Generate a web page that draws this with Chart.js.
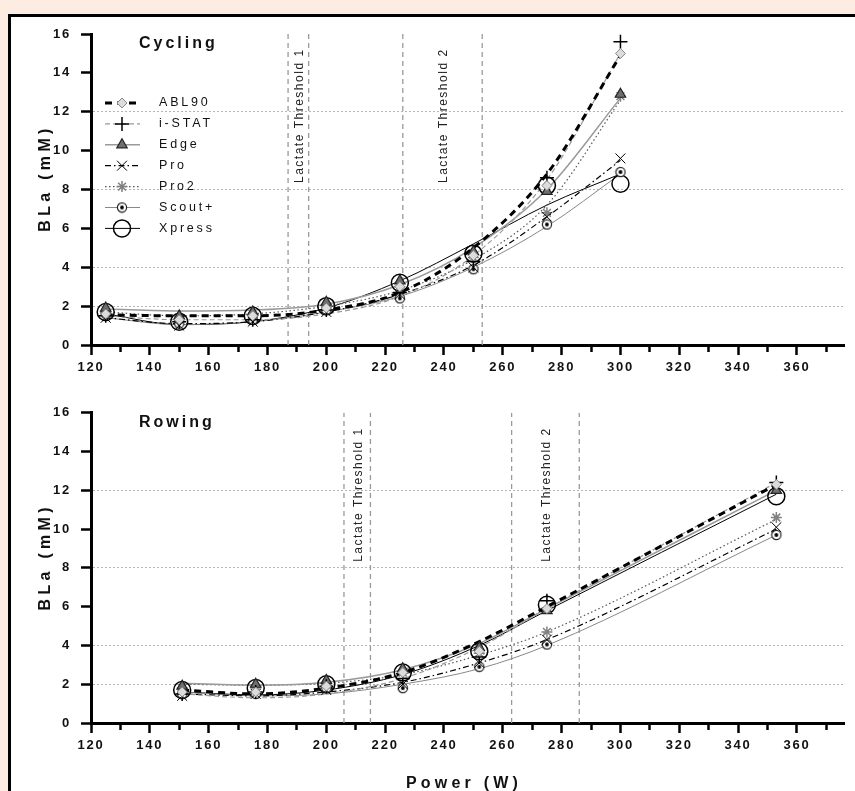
<!DOCTYPE html>
<html>
<head>
<meta charset="utf-8">
<script src="https://cdn.jsdelivr.net/npm/chart.js@4.4.1/dist/chart.umd.min.js"></script>
<style>
  html, body { margin: 0; padding: 0; background: #fdece2; overflow: hidden; width: 855px; height: 791px; }
  #frame { position: absolute; left: 8px; top: 14px; width: 900px; height: 900px; background: #fff; border-left: 3px solid #000; border-top: 3px solid #000; }
  .wrap { position: absolute; left: 0; width: 855px; }
  #w1 { top: 0; height: 395px; }
  #w2 { top: 395px; height: 396px; }
</style>
</head>
<body>
<div id="frame"></div>
<div class="wrap" id="w1"><canvas id="cycling"></canvas></div>
<div class="wrap" id="w2"><canvas id="rowing"></canvas></div>
<script>
// Cycling - power (W), measured blood lactate (mM) per analyser
const cyclingPower = [125, 150, 175, 200, 225, 250, 275, 300];
const cycABL90  = [1.6, 1.3, 1.5, 1.9, 3.0, 4.6, 8.2, 15.0];
const cycISTAT  = [1.5, 1.2, 1.3, 1.8, 2.7, 4.3, 8.6, 15.6];
const cycEdge   = [1.9, 1.5, 1.7, 2.2, 3.3, 4.8, 7.9, 12.9];
const cycPro    = [1.4, 1.0, 1.2, 1.7, 2.6, 4.0, 6.6, 9.6];
const cycPro2   = [1.7, 1.3, 1.5, 2.0, 3.0, 4.5, 6.8, 12.8];
const cycScout  = [1.6, 1.1, 1.3, 1.8, 2.4, 3.9, 6.2, 8.9];
const cycXpress = [1.7, 1.2, 1.5, 2.0, 3.2, 4.7, 8.2, 8.3];
// fitted curves, read at the same powers
const cycFitABL90  = [1.55, 1.5, 1.5, 1.8, 2.7, 5.0, 8.8, 14.9];
const cycFitISTAT  = [1.5, 1.3, 1.3, 1.6, 2.5, 4.6, 8.5, 15.0];
const cycFitEdge   = [1.85, 1.75, 1.8, 2.1, 3.1, 5.0, 8.0, 12.7];
const cycFitPro    = [1.4, 1.1, 1.2, 1.7, 2.6, 4.1, 6.6, 9.5];
const cycFitPro2   = [1.7, 1.5, 1.6, 2.0, 2.8, 4.4, 7.2, 12.6];
const cycFitScout  = [1.4, 1.05, 1.2, 1.7, 2.5, 4.0, 6.1, 8.8];
const cycFitXpress = [1.6, 1.05, 1.2, 1.9, 3.3, 5.2, 7.2, 8.8];
const cyclingThresholds = [187, 194, 226, 253];

// Rowing
const rowingPower = [151, 176, 200, 226, 252, 275, 353];
const rowABL90  = [1.6, 1.6, 1.9, 2.6, 3.7, 5.9, 12.3];
const rowISTAT  = [1.5, 1.6, 1.9, 2.3, 3.4, 6.3, 12.4];
const rowEdge   = [1.9, 2.0, 2.2, 2.8, 3.9, 5.8, 12.0];
const rowPro    = [1.4, 1.5, 1.7, 2.0, 3.1, 4.3, 10.1];
const rowPro2   = [1.8, 1.8, 2.0, 2.6, 3.6, 4.7, 10.6];
const rowScout  = [1.5, 1.5, 1.8, 1.8, 2.9, 4.05, 9.7];
const rowXpress = [1.7, 1.8, 2.0, 2.6, 3.7, 6.1, 11.7];
const rowFitABL90  = [1.7, 1.5, 1.8, 2.6, 4.2, 6.0, 12.3];
const rowFitISTAT  = [1.5, 1.3, 1.5, 2.3, 3.9, 5.9, 12.4];
const rowFitEdge   = [2.05, 1.95, 2.1, 2.75, 4.1, 5.9, 12.0];
const rowFitPro    = [1.5, 1.4, 1.6, 2.1, 3.1, 4.3, 10.0];
const rowFitPro2   = [2.0, 1.95, 2.05, 2.5, 3.5, 4.7, 10.5];
const rowFitScout  = [1.6, 1.4, 1.5, 2.0, 2.8, 4.0, 9.7];
const rowFitXpress = [1.6, 1.45, 1.7, 2.5, 4.0, 5.8, 11.8];
const rowingThresholds = [206, 215, 263, 286];

const deviceNames = ['ABL90', 'i-STAT', 'Edge', 'Pro', 'Pro2', 'Scout+', 'Xpress'];
const yTicks = [0, 2, 4, 6, 8, 10, 12, 14, 16];
const gridAt = [2, 4, 8, 12];
const thresholdLabels = ['Lactate Threshold 1', 'Lactate Threshold 2'];

const FONT = '"Liberation Sans", Arial, sans-serif';

// Scout+ marker: ring with a dot
const scoutMark = document.createElement('canvas');
scoutMark.width = 12; scoutMark.height = 12;
(function () {
    const c = scoutMark.getContext('2d');
    c.beginPath(); c.arc(6, 6, 4.6, 0, Math.PI * 2);
    c.fillStyle = '#fff'; c.fill();
    c.lineWidth = 1.2; c.strokeStyle = '#222'; c.stroke();
    c.beginPath(); c.arc(6, 6, 1.9, 0, Math.PI * 2);
    c.fillStyle = '#000'; c.fill();
})();

const lineStyles = {
    'ABL90':  { borderColor: '#000', borderWidth: 3, borderDash: [7, 5] },
    'i-STAT': { borderColor: '#9a9a9a', borderWidth: 1.2, borderDash: [5, 3] },
    'Edge':   { borderColor: '#9a9a9a', borderWidth: 1.5, borderDash: [] },
    'Pro':    { borderColor: '#000', borderWidth: 1.2, borderDash: [6, 3, 1.5, 3] },
    'Pro2':   { borderColor: '#555', borderWidth: 1.2, borderDash: [1.5, 2.5] },
    'Scout+': { borderColor: '#888', borderWidth: 1, borderDash: [] },
    'Xpress': { borderColor: '#000', borderWidth: 1, borderDash: [] }
};
const markStyles = {
    'ABL90':  { pointStyle: 'rectRot', pointRadius: 5, pointBackgroundColor: '#dcdcdc', pointBorderColor: '#888', pointBorderWidth: 1 },
    'i-STAT': { pointStyle: 'cross', pointRadius: 7, pointBackgroundColor: '#000', pointBorderColor: '#000', pointBorderWidth: 1.5 },
    'Edge':   { pointStyle: 'triangle', pointRadius: 6, pointBackgroundColor: '#6e6e6e', pointBorderColor: '#222', pointBorderWidth: 1.2 },
    'Pro':    { pointStyle: 'crossRot', pointRadius: 7, pointBackgroundColor: '#000', pointBorderColor: '#000', pointBorderWidth: 1 },
    'Pro2':   { pointStyle: 'star', pointRadius: 5.5, pointBackgroundColor: '#808080', pointBorderColor: '#808080', pointBorderWidth: 1.5 },
    'Scout+': { pointStyle: scoutMark, pointRadius: 6, pointBackgroundColor: '#fff', pointBorderColor: '#222', pointBorderWidth: 1 },
    'Xpress': { pointStyle: 'circle', pointRadius: 8.5, pointBackgroundColor: 'rgba(0,0,0,0)', pointBorderColor: '#000', pointBorderWidth: 1.5 }
};

function xy(power, vals) {
    return power.map((p, i) => ({ x: p, y: vals[i] }));
}

function fitSet(name, power, vals) {
    return Object.assign({
        label: name + ' fit',
        data: xy(power, vals),
        cubicInterpolationMode: 'monotone',
        pointRadius: 0,
        fill: false,
        order: 5
    }, lineStyles[name]);
}

function markSet(name, power, vals) {
    return Object.assign({
        label: name,
        data: xy(power, vals),
        showLine: false,
        order: 0
    }, markStyles[name]);
}

function thresholdSet(x) {
    return {
        label: 'thr' + x,
        data: [{ x: x, y: 0 }, { x: x, y: 16 }],
        borderColor: '#9a9a9a',
        borderWidth: 1.3,
        borderDash: [5, 4],
        pointRadius: 0,
        order: 10
    };
}

// titles, threshold labels, legend
const decor = {
    id: 'decor',
    beforeDraw(chart) {
        chart.ctx.letterSpacing = '1.8px';
    },
    afterDraw(chart, args, opts) {
        const ctx = chart.ctx;
        const area = chart.chartArea;
        const xs = chart.scales.x;
        ctx.save();
        ctx.fillStyle = '#111';
        ctx.textBaseline = 'middle';

        // panel title
        ctx.font = 'bold 16px ' + FONT;
        ctx.letterSpacing = '3px';
        ctx.textAlign = 'left';
        ctx.fillText(opts.title, 139, area.top + 10);

        // y axis title
        ctx.save();
        ctx.translate(46, area.top + 144);
        ctx.rotate(-Math.PI / 2);
        ctx.font = 'bold 16px ' + FONT;
        ctx.letterSpacing = '4.3px';
        ctx.textAlign = 'center';
        ctx.fillText('BLa (mM)', 0, 0);
        ctx.restore();

        // threshold labels between each pair of lines
        ctx.font = '12px ' + FONT;
        ctx.letterSpacing = '1.5px';
        ctx.fillStyle = '#222';
        for (let k = 0; k < 2; k++) {
            const cx = (xs.getPixelForValue(opts.thresholds[k * 2]) + xs.getPixelForValue(opts.thresholds[k * 2 + 1])) / 2;
            ctx.save();
            ctx.translate(cx + 1, area.top + 149);
            ctx.rotate(-Math.PI / 2);
            ctx.textAlign = 'left';
            ctx.fillText(thresholdLabels[k], 0, 0);
            ctx.restore();
        }

        // x axis title
        if (opts.xTitle) {
            ctx.fillStyle = '#111';
            ctx.font = 'bold 16px ' + FONT;
            ctx.letterSpacing = '4.2px';
            ctx.textAlign = 'center';
            ctx.fillText(opts.xTitle, 464, chart.height - 7);
        }

        // legend: line sample + marker + name
        if (opts.legend) {
            deviceNames.forEach((name, i) => {
                const ls = lineStyles[name];
                const ms = markStyles[name];
                const y = area.top + 69 + i * 20.9;
                ctx.save();
                ctx.setLineDash(ls.borderDash);
                ctx.strokeStyle = ls.borderColor;
                ctx.lineWidth = ls.borderWidth;
                ctx.beginPath();
                ctx.moveTo(105, y);
                ctx.lineTo(140, y);
                ctx.stroke();
                ctx.setLineDash([]);
                ctx.fillStyle = ms.pointBackgroundColor;
                ctx.strokeStyle = ms.pointBorderColor;
                ctx.lineWidth = ms.pointBorderWidth;
                Chart.helpers.drawPoint(ctx, {
                    pointStyle: ms.pointStyle,
                    radius: ms.pointRadius,
                    rotation: 0,
                    borderWidth: ms.pointBorderWidth
                }, 122, y);
                ctx.restore();
                ctx.fillStyle = '#111';
                ctx.font = '12.5px ' + FONT;
                ctx.letterSpacing = '2.8px';
                ctx.textAlign = 'left';
                ctx.fillText(name, 159, y);
            });
        }
        ctx.restore();
    }
};

function makeChart(id, power, marks, fits, thresholds, o) {
    const datasets = [];
    deviceNames.forEach((n, i) => datasets.push(markSet(n, power, marks[i])));
    deviceNames.forEach((n, i) => datasets.push(fitSet(n, power, fits[i])));
    thresholds.forEach(t => datasets.push(thresholdSet(t)));

    return new Chart(document.getElementById(id), {
        type: 'line',
        data: { datasets: datasets },
        plugins: [decor],
        options: {
            responsive: true,
            maintainAspectRatio: false,
            animation: false,
            events: [],
            layout: { padding: { top: o.top, right: 11, left: 0, bottom: 0 } },
            scales: {
                x: {
                    type: 'linear',
                    min: 120,
                    max: 376,
                    afterBuildTicks: s => {
                        const t = [];
                        for (let v = 120; v <= 370; v += 10) t.push({ value: v });
                        s.ticks = t;
                    },
                    afterFit: s => { s.height = o.xHeight; },
                    ticks: {
                        callback: v => (v % 20 === 0 ? v : ''),
                        color: '#111',
                        font: { family: FONT, size: 13, weight: 'bold' },
                        padding: 5,
                        maxRotation: 0,
                        autoSkip: false
                    },
                    grid: {
                        drawOnChartArea: false,
                        tickLength: 10,
                        tickWidth: 2.5,
                        tickColor: '#000',
                        tickBorderDash: c => (c.tick && c.tick.value % 20 === 0 ? [] : [5, 30])
                    },
                    border: { color: '#000', width: 3 }
                },
                y: {
                    min: 0,
                    max: 16,
                    afterBuildTicks: s => { s.ticks = yTicks.map(v => ({ value: v })); },
                    afterFit: s => { s.width = 91; },
                    ticks: {
                        color: '#111',
                        font: { family: FONT, size: 13, weight: 'bold' },
                        padding: 10
                    },
                    grid: {
                        color: c => (c.tick && gridAt.includes(c.tick.value) ? '#b4b4b4' : 'rgba(0,0,0,0)'),
                        lineWidth: 1,
                        tickLength: 10,
                        tickWidth: 2.5,
                        tickColor: '#000'
                    },
                    border: { color: '#000', width: 3, dash: [2, 2] }
                }
            },
            plugins: {
                legend: { display: false },
                tooltip: { enabled: false },
                decor: o.decor
            }
        }
    });
}

makeChart('cycling', cyclingPower,
    [cycABL90, cycISTAT, cycEdge, cycPro, cycPro2, cycScout, cycXpress],
    [cycFitABL90, cycFitISTAT, cycFitEdge, cycFitPro, cycFitPro2, cycFitScout, cycFitXpress],
    cyclingThresholds,
    { top: 34, xHeight: 50, decor: { title: 'Cycling', thresholds: cyclingThresholds, legend: true } });

makeChart('rowing', rowingPower,
    [rowABL90, rowISTAT, rowEdge, rowPro, rowPro2, rowScout, rowXpress],
    [rowFitABL90, rowFitISTAT, rowFitEdge, rowFitPro, rowFitPro2, rowFitScout, rowFitXpress],
    rowingThresholds,
    { top: 17, xHeight: 68, decor: { title: 'Rowing', thresholds: rowingThresholds, legend: false, xTitle: 'Power (W)' } });
</script>
</body>
</html>
